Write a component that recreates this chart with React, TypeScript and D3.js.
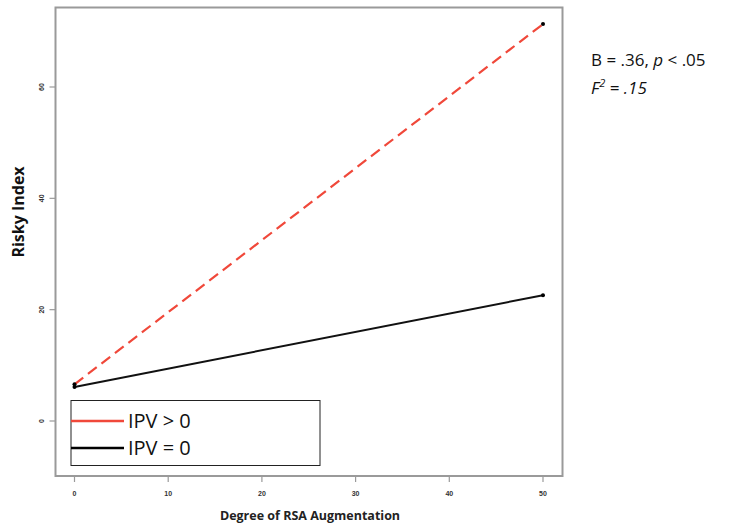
import React from "react";
import * as d3 from "d3";

const xTicks = [0, 10, 20, 30, 40, 50];
const yTicks = [0, 20, 40, 60];
const xDomain = [0, 50];
const ipvPos = [
  { x: 0, y: 6.6 },
  { x: 50, y: 71.3 },
];
const ipvZero = [
  { x: 0, y: 6.1 },
  { x: 50, y: 22.6 },
];
const legendLabels = ["IPV > 0", "IPV = 0"];

export default function App() {
  const W = 730, H = 529;
  const box = { l: 55.5, t: 7.5, r: 562.5, b: 476 };
  const x = d3.scaleLinear().domain(xDomain).range([74.5, 543]);
  const y = d3.scaleLinear().domain([0, 60]).range([421, 87]);
  const line = d3.line<{ x: number; y: number }>().x(d => x(d.x)).y(d => y(d.y));
  const gray = "#9a9a9a";
  const font = "'Open Sans', 'Liberation Sans', sans-serif";
  return (
    <svg width={W} height={H} style={{ position: "absolute", left: 0, top: 0 }}>
      <rect x={0} y={0} width={W} height={H} fill="#fff" />
      <rect x={box.l} y={box.t} width={box.r - box.l} height={box.b - box.t} fill="none" stroke={gray} strokeWidth={2} />
      {xTicks.map(t => (
        <g key={"x" + t}>
          <line x1={x(t)} x2={x(t)} y1={box.b} y2={box.b + 6} stroke={gray} strokeWidth={1.2} />
          <text x={x(t)} y={496} textAnchor="middle" fontSize={7} fontWeight="bold" fontFamily="'Liberation Sans', sans-serif" fill="#333">{t}</text>
        </g>
      ))}
      {yTicks.map(t => (
        <g key={"y" + t}>
          <line x1={box.l - 6} x2={box.l} y1={y(t)} y2={y(t)} stroke={gray} strokeWidth={1.2} />
          <text transform={`translate(44,${y(t)}) rotate(-90)`} textAnchor="middle" fontSize={7} fontWeight="bold" fontFamily="'Liberation Sans', sans-serif" fill="#333">{t}</text>
        </g>
      ))}
      <path d={line(ipvZero) || ""} fill="none" stroke="#111" strokeWidth={2} />
      <path d={line(ipvPos) || ""} fill="none" stroke="#f0483a" strokeWidth={2.2} strokeDasharray="11,6" />
      {[ipvPos[0], ipvPos[1], ipvZero[0], ipvZero[1]].map((p, i) => (
        <circle key={i} cx={x(p.x)} cy={y(p.y)} r={2} fill="#000" />
      ))}
      <rect x={71} y={400.5} width={249} height={65} fill="#fff" stroke="#222" strokeWidth={1} />
      <line x1={71} x2={124} y1={421} y2={421} stroke="#f0483a" strokeWidth={2.5} />
      <line x1={71} x2={124} y1={448} y2={448} stroke="#000" strokeWidth={2.5} />
      <text x={128} y={428} fontSize={20} fontFamily={font} fill="#111">{legendLabels[0]}</text>
      <text x={128} y={455} fontSize={20} fontFamily={font} fill="#111">{legendLabels[1]}</text>
      <text transform="translate(24,212) rotate(-90)" textAnchor="middle" fontSize={16} fontWeight="bold" fontFamily={font} fill="#111">Risky Index</text>
      <text x={310} y={520} textAnchor="middle" fontSize={12.5} fontWeight="bold" fontFamily={font} fill="#222">Degree of RSA Augmentation</text>
      <text x={591} y={66} fontSize={17} fontFamily={font} fill="#111">B = .36, <tspan fontStyle="italic">p</tspan> &lt; .05</text>
      <text x={591} y={94} fontSize={17} fontFamily={font} fontStyle="italic" fill="#111">F<tspan fontSize={11} dy={-7}>2</tspan><tspan dy={7}> = .15</tspan></text>
    </svg>
  );
}
